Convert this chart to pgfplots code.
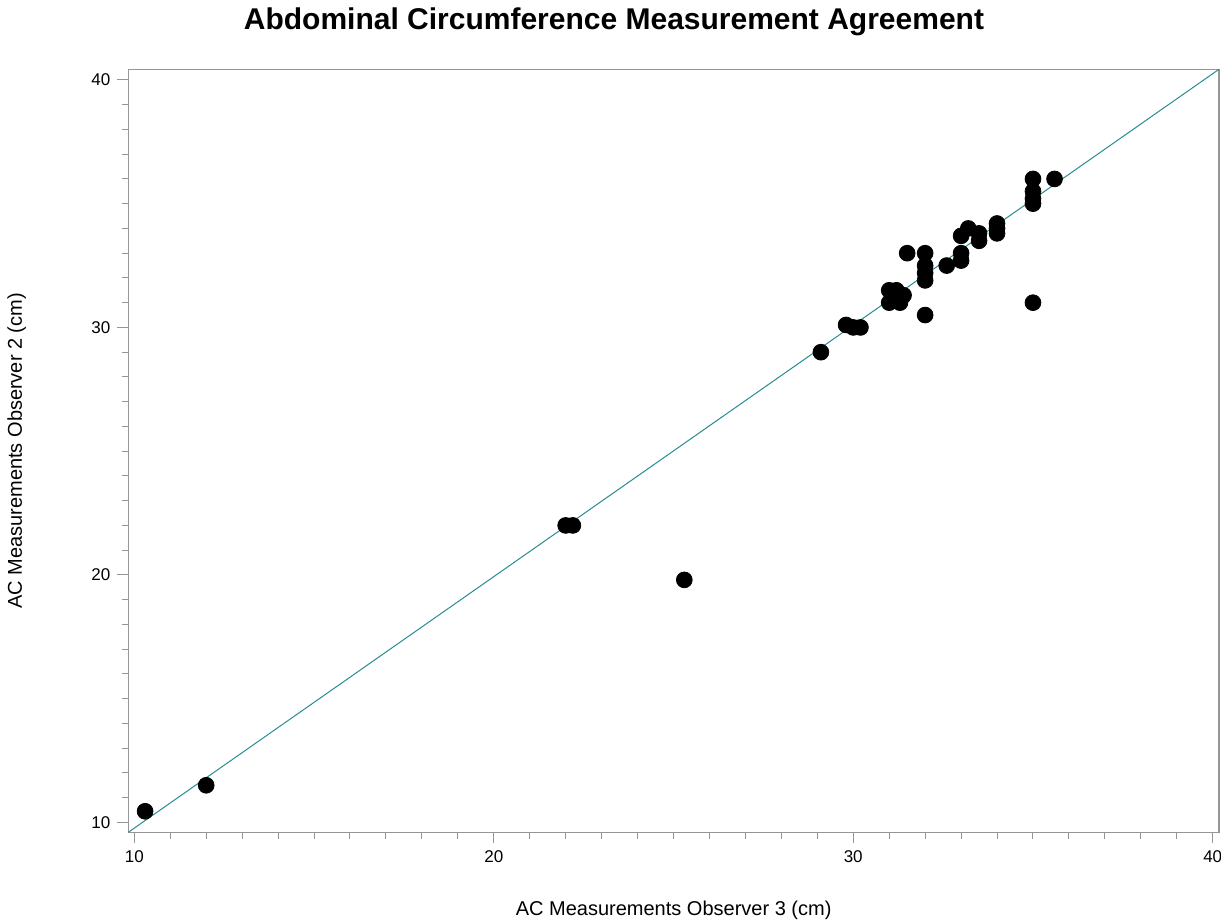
\documentclass[border=0pt]{standalone}
\usepackage{pgfplots}
\pgfplotsset{compat=1.18}
\usepackage{fontspec}
\setmainfont{Liberation Sans}
\usetikzlibrary{calc}

\definecolor{axisgray}{RGB}{150,150,150}
\definecolor{refteal}{RGB}{40,140,145}

\pgfplotstableread{
obs3 obs2
10.3 10.45
12.0 11.5
22.0 22.0
22.2 22.0
25.3 19.8
29.1 29.0
29.8 30.1
30.0 30.0
30.2 30.0
31.0 31.0
31.0 31.5
31.2 31.5
31.3 31.0
31.4 31.3
31.5 33.0
32.0 33.0
32.0 32.5
32.0 32.2
32.0 31.9
32.0 30.5
32.6 32.5
33.0 32.7
33.0 33.0
33.0 33.7
33.2 34.0
33.5 33.8
33.5 33.5
34.0 34.0
34.0 34.2
34.0 33.8
35.0 36.0
35.0 35.5
35.0 35.2
35.0 35.0
35.6 36.0
35.0 31.0
}\acdata

\begin{document}
\begin{tikzpicture}
\begin{axis}[
  name=ax,
  scale only axis,
  width=545.35pt, height=381.5pt,
  xmin=9.833, xmax=40.175,
  ymin=9.6, ymax=40.43,
  xtick={10,20,30,40}, ytick={10,20,30,40},
  minor x tick num=9, minor y tick num=9,
  tick pos=left,
  tick align=outside,
  axis line style={axisgray, line width=0.6pt},
  every tick/.style={axisgray, line width=0.5pt},
  major tick length=5.5pt, minor tick length=3.2pt,
  /pgf/number format/assume math mode=true,
  tick label style={font=\fontsize{8.5}{10}\selectfont, text=black},
  xlabel={AC Measurements Observer 3 (cm)},
  ylabel={AC Measurements Observer 2 (cm)},
  label style={font=\fontsize{10}{12}\selectfont},
  xlabel style={at={(axis description cs:0.5,-0.1084)}, anchor=base},
  ylabel style={at={(axis description cs:-0.0975,0.5)}, anchor=base},
  title={Abdominal Circumference Measurement Agreement},
  title style={at={(axis description cs:0.4453,1.0358)}, anchor=base,
               font=\bfseries\fontsize{15}{18}\selectfont},
  clip=true,
]
% line of agreement
\addplot[refteal, line width=0.5pt, no marks]
  coordinates {(9.833,9.6) (40.175,40.43)};
% paired measurements
\addplot[only marks, mark=*, mark size=3.95pt,
         mark options={fill=black, draw=black}]
  table[x=obs3, y=obs2] {\acdata};
\end{axis}
\pgfresetboundingbox
\path[use as bounding box] ($(ax.south west)+(-64.15pt,-44.85pt)$)
  rectangle ($(ax.north east)+(1pt,34.65pt)$);
\end{tikzpicture}
\end{document}
